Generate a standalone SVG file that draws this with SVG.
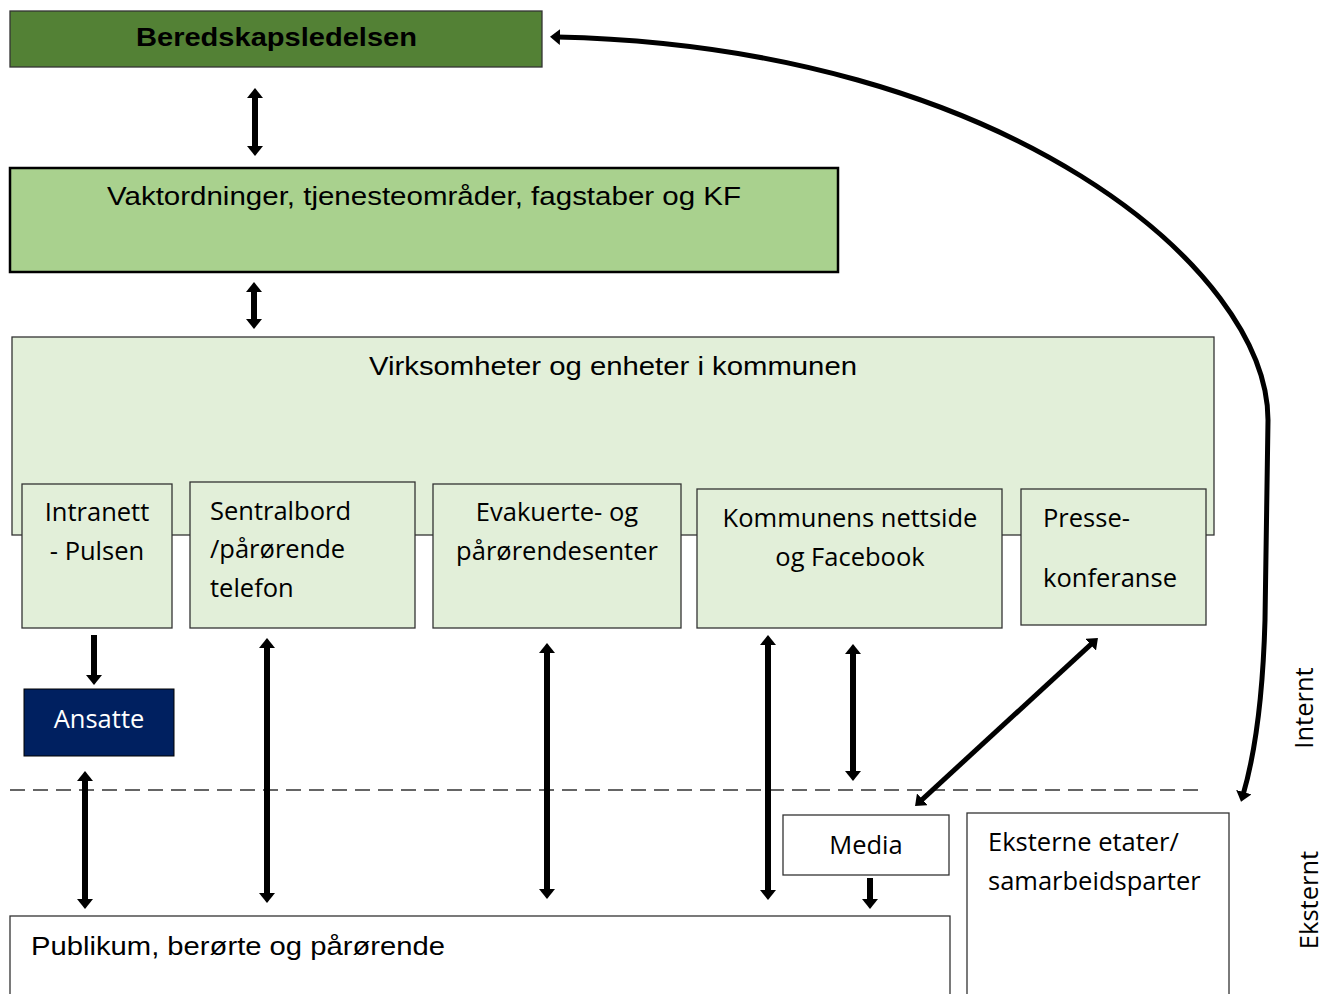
<svg xmlns="http://www.w3.org/2000/svg" width="1336" height="994" viewBox="0 0 1336 994">
<defs>
<marker id="ah" viewBox="0 0 10 16" refX="3" refY="8" markerWidth="10" markerHeight="16" markerUnits="userSpaceOnUse" orient="auto-start-reverse"><path d="M0,0 L10,8 L0,16 z" fill="#000"/></marker>
<style>
.a{font-family:"Liberation Sans",Arial,sans-serif;font-size:25px;fill:#000}
.c{font-family:"Open Sans","Noto Sans",sans-serif;font-size:25.5px;fill:#000}
.sub{fill:#e2efd9;stroke:#333;stroke-width:1.3}
.ar{stroke:#000;stroke-width:6;fill:none}
.wb{fill:#fff;stroke:#333;stroke-width:1.3}
</style>
</defs>
<rect width="1336" height="994" fill="#fff"/>
<g id="beredskap"><rect x="10" y="11" width="532" height="56" fill="#538135" stroke="#333" stroke-width="1.3"/><text class="a" x="136" y="46" font-weight="bold" textLength="281" lengthAdjust="spacingAndGlyphs">Beredskapsledelsen</text></g>
<g id="vakt"><rect x="10" y="168" width="828" height="104" fill="#a9d18e" stroke="#000" stroke-width="2.5"/><text class="a" x="107" y="205" textLength="634" lengthAdjust="spacingAndGlyphs">Vaktordninger, tjenesteområder, fagstaber og KF</text></g>
<g id="virk"><rect x="12" y="337" width="1202" height="198" fill="#e2efd9" stroke="#333" stroke-width="1.3"/><text class="a" x="369" y="375" textLength="488" lengthAdjust="spacingAndGlyphs">Virksomheter og enheter i kommunen</text></g>
<g id="intranett"><rect class="sub" x="22" y="484" width="150" height="144"/><text class="c" x="97" y="521" text-anchor="middle">Intranett</text><text class="c" x="97" y="560" text-anchor="middle">- Pulsen</text></g>
<g id="sentralbord"><rect class="sub" x="190" y="482" width="225" height="146"/><text class="c" x="210" y="520">Sentralbord</text><text class="c" x="210" y="558">/pårørende</text><text class="c" x="210" y="597">telefon</text></g>
<g id="evakuerte"><rect class="sub" x="433" y="484" width="248" height="144"/><text class="c" x="557" y="521" text-anchor="middle">Evakuerte- og</text><text class="c" x="557" y="560" text-anchor="middle">pårørendesenter</text></g>
<g id="nettside"><rect class="sub" x="697" y="489" width="305" height="139"/><text class="c" x="850" y="527" text-anchor="middle">Kommunens nettside</text><text class="c" x="850" y="566" text-anchor="middle">og Facebook</text></g>
<g id="presse"><rect class="sub" x="1021" y="489" width="185" height="136"/><text class="c" x="1043" y="527">Presse-</text><text class="c" x="1043" y="587">konferanse</text></g>
<g id="ansatte"><rect x="24" y="689" width="150" height="67" fill="#002060" stroke="#000" stroke-width="1"/><text class="c" x="99" y="728" text-anchor="middle" style="fill:#fff">Ansatte</text></g>
<g id="media"><rect class="wb" x="783" y="815" width="166" height="60"/><text class="c" x="866" y="854" text-anchor="middle">Media</text></g>
<g id="eksterne"><rect class="wb" x="967" y="813" width="262" height="190"/><text class="c" x="988" y="851">Eksterne etater/</text><text class="c" x="988" y="890">samarbeidsparter</text></g>
<g id="publikum"><rect class="wb" x="10" y="916" width="940" height="90"/><text class="a" x="31" y="955" textLength="414" lengthAdjust="spacingAndGlyphs">Publikum, berørte og pårørende</text></g>
<g id="labels"><text class="c" transform="translate(1313,708) rotate(-90)" text-anchor="middle">Internt</text><text class="c" transform="translate(1318,900) rotate(-90)" text-anchor="middle">Eksternt</text></g>
<line x1="10" y1="790" x2="1205" y2="790" stroke="#333" stroke-width="1.5" stroke-dasharray="15 8"/>
<g id="connectors">
<line class="ar" x1="255" y1="95" x2="255" y2="149" marker-start="url(#ah)" marker-end="url(#ah)"/>
<line class="ar" x1="254" y1="289" x2="254" y2="322" marker-start="url(#ah)" marker-end="url(#ah)"/>
<line class="ar" x1="94" y1="635" x2="94" y2="678" marker-end="url(#ah)"/>
<line class="ar" x1="85" y1="778" x2="85" y2="902" marker-start="url(#ah)" marker-end="url(#ah)"/>
<line class="ar" x1="267" y1="645" x2="267" y2="896" marker-start="url(#ah)" marker-end="url(#ah)"/>
<line class="ar" x1="547" y1="650" x2="547" y2="892" marker-start="url(#ah)" marker-end="url(#ah)"/>
<line class="ar" x1="768" y1="642" x2="768" y2="893" marker-start="url(#ah)" marker-end="url(#ah)"/>
<line class="ar" x1="853" y1="651" x2="853" y2="774" marker-start="url(#ah)" marker-end="url(#ah)"/>
<line class="ar" style="stroke-width:5" x1="1092.8" y1="642.7" x2="920.2" y2="801.3" marker-start="url(#ah)" marker-end="url(#ah)"/>
<line class="ar" x1="870" y1="878" x2="870" y2="902" marker-end="url(#ah)"/>
<path class="ar" style="stroke-width:5" d="M557 37 C 1006 47, 1268 270, 1268 420 L 1265 620 Q 1262 730 1243 795" marker-start="url(#ah)" marker-end="url(#ah)"/>
</g>
</svg>
